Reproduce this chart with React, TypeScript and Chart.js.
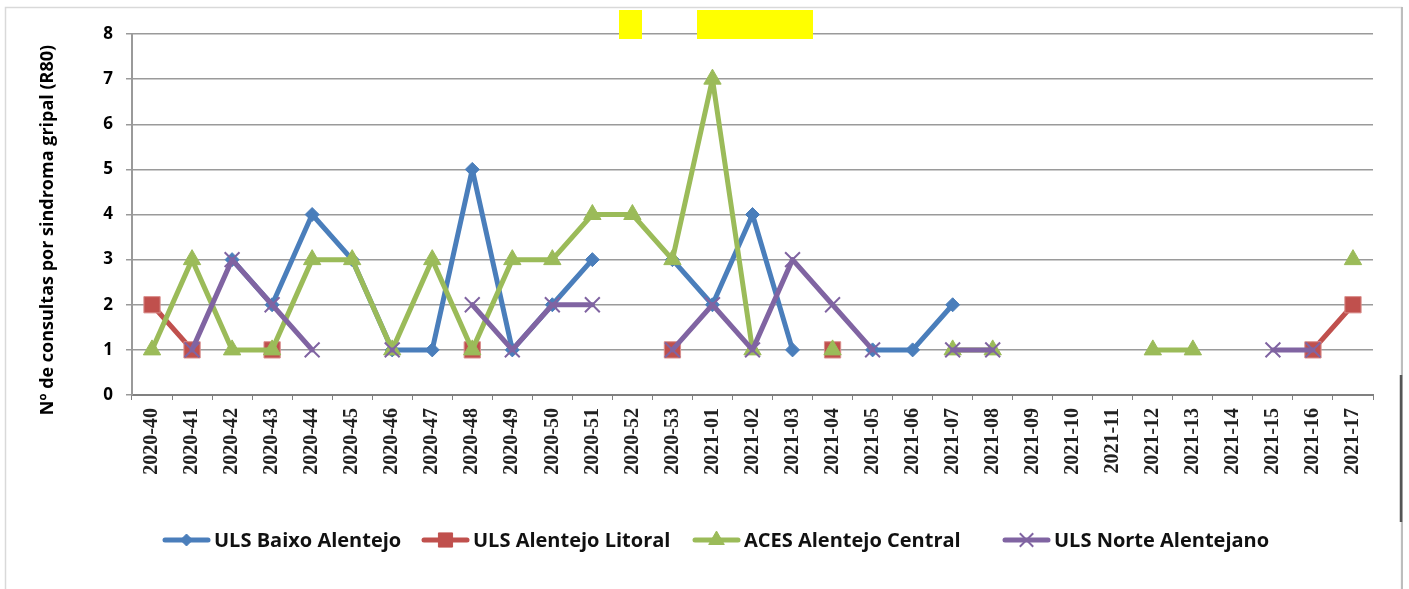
import React, { useEffect, useRef } from 'react';
import { Chart, registerables } from 'chart.js';

Chart.register(...registerables);

const categories = [
  '2020-40', '2020-41', '2020-42', '2020-43', '2020-44', '2020-45', '2020-46', '2020-47',
  '2020-48', '2020-49', '2020-50', '2020-51', '2020-52', '2020-53', '2021-01', '2021-02',
  '2021-03', '2021-04', '2021-05', '2021-06', '2021-07', '2021-08', '2021-09', '2021-10',
  '2021-11', '2021-12', '2021-13', '2021-14', '2021-15', '2021-16', '2021-17',
];

const baixoAlentejo = [
  null, null, 3, 2, 4, 3, 1, 1, 5, 1, 2, 3, null, 3, 2, 4,
  1, null, 1, 1, 2, null, null, null, null, null, null, null, null, null, null,
];
const alentejoLitoral = [
  2, 1, null, 1, null, null, null, null, 1, null, null, null, null, 1, null, null,
  null, 1, null, null, null, null, null, null, null, null, null, null, null, 1, 2,
];
const alentejoCentral = [
  1, 3, 1, 1, 3, 3, 1, 3, 1, 3, 3, 4, 4, 3, 7, 1,
  null, 1, null, null, 1, 1, null, null, null, 1, 1, null, null, null, 3,
];
const norteAlentejano = [
  null, 1, 3, 2, 1, null, 1, null, 2, 1, 2, 2, null, 1, 2, 1,
  3, 2, 1, null, 1, 1, null, null, null, null, null, null, 1, 1, null,
];

const seriesNames = ['ULS Baixo Alentejo', 'ULS Alentejo Litoral', 'ACES Alentejo Central', 'ULS Norte Alentejano'];
const yMin = 0;
const yMax = 8;
const yStep = 1;
const yAxisTitle = 'Nº de consultas por sindroma gripal (R80)';

const BLUE = '#4A7EBB';
const RED = '#C0504D';
const GREEN = '#9BBB59';
const PURPLE = '#8064A2';

type MarkerStyle = 'rectRot' | 'rect' | 'triangle' | 'crossRot';

function drawMarker(
  ctx: CanvasRenderingContext2D,
  style: MarkerStyle,
  x: number,
  y: number,
  r: number,
  fill: string,
  stroke: string,
  bw: number,
) {
  ctx.save();
  ctx.fillStyle = fill;
  ctx.strokeStyle = stroke;
  ctx.lineWidth = bw;
  ctx.beginPath();
  if (style === 'rectRot') {
    ctx.moveTo(x, y - r);
    ctx.lineTo(x + r, y);
    ctx.lineTo(x, y + r);
    ctx.lineTo(x - r, y);
    ctx.closePath();
    ctx.fill();
    ctx.stroke();
  } else if (style === 'rect') {
    const s = r * Math.SQRT1_2;
    ctx.rect(x - s, y - s, 2 * s, 2 * s);
    ctx.fill();
    ctx.stroke();
  } else if (style === 'triangle') {
    let a = 0;
    ctx.moveTo(x + Math.sin(a) * r, y - Math.cos(a) * r);
    a += (2 * Math.PI) / 3;
    ctx.lineTo(x + Math.sin(a) * r, y - Math.cos(a) * r);
    a += (2 * Math.PI) / 3;
    ctx.lineTo(x + Math.sin(a) * r, y - Math.cos(a) * r);
    ctx.closePath();
    ctx.fill();
    ctx.stroke();
  } else {
    const d = r * Math.SQRT1_2;
    ctx.moveTo(x - d, y - d);
    ctx.lineTo(x + d, y + d);
    ctx.moveTo(x + d, y - d);
    ctx.lineTo(x - d, y + d);
    ctx.stroke();
  }
  ctx.restore();
}

const legendMarkers: { style: MarkerStyle; color: string; border: string; r: number; bw: number }[] = [
  { style: 'rectRot', color: BLUE, border: BLUE, r: 6, bw: 1 },
  { style: 'rect', color: RED, border: RED, r: 10, bw: 1 },
  { style: 'triangle', color: GREEN, border: GREEN, r: 9, bw: 1 },
  { style: 'crossRot', color: PURPLE, border: PURPLE, r: 9.5, bw: 2 },
];
const legendLineStarts = [163, 422, 693, 1003];

const decorPlugin = {
  id: 'decor',
  beforeDraw(chart: any) {
    const ctx = chart.ctx as CanvasRenderingContext2D;
    ctx.save();
    ctx.fillStyle = '#ffffff';
    ctx.fillRect(0, 0, chart.width, chart.height);
    ctx.strokeStyle = '#d9d9d9';
    ctx.lineWidth = 1.5;
    ctx.strokeRect(5.5, 7.5, 1396, 600);
    ctx.strokeStyle = '#bdbdbd';
    ctx.lineWidth = 2;
    ctx.beginPath();
    ctx.moveTo(1402, 7);
    ctx.lineTo(1402, 589);
    ctx.stroke();
    ctx.strokeStyle = '#555555';
    ctx.lineWidth = 2.5;
    ctx.beginPath();
    ctx.moveTo(1401, 375);
    ctx.lineTo(1401, 522);
    ctx.stroke();
    ctx.restore();
  },
  afterDraw(chart: any) {
    const ctx = chart.ctx as CanvasRenderingContext2D;
    // y axis title
    ctx.save();
    ctx.translate(48, 230);
    ctx.rotate(-Math.PI / 2);
    ctx.font = 'bold 18px "Open Sans"';
    ctx.fillStyle = '#000000';
    ctx.textAlign = 'center';
    ctx.textBaseline = 'middle';
    ctx.fillText(yAxisTitle, 0, 0);
    ctx.restore();

    // legend
    const ly = 540;
    chart.data.datasets.forEach((ds: any, i: number) => {
      const m = legendMarkers[i];
      const x0 = legendLineStarts[i];
      const x1 = x0 + 47;
      ctx.save();
      ctx.strokeStyle = m.color;
      ctx.lineWidth = 5;
      ctx.lineCap = 'round';
      ctx.beginPath();
      ctx.moveTo(x0 + 2, ly);
      ctx.lineTo(x1 - 2, ly);
      ctx.stroke();
      ctx.restore();
      drawMarker(ctx, m.style, (x0 + x1) / 2, ly, m.r, m.color, m.border, m.bw);
      ctx.save();
      ctx.font = 'bold 20px "Open Sans"';
      ctx.fillStyle = '#111111';
      ctx.textAlign = 'left';
      ctx.textBaseline = 'middle';
      ctx.fillText(ds.label, x1 + 4, ly + 1);
      ctx.restore();
    });
  },
};

export default function App() {
  const canvasRef = useRef<HTMLCanvasElement | null>(null);

  useEffect(() => {
    const canvas = canvasRef.current;
    if (!canvas) return;
    const common = {
      borderWidth: 5,
      tension: 0,
      spanGaps: false,
      borderJoinStyle: 'round' as const,
      borderCapStyle: 'round' as const,
      clip: false as any,
    };
    const chart = new Chart(canvas, {
      type: 'line',
      data: {
        labels: categories,
        datasets: [
          {
            ...common,
            label: seriesNames[0],
            data: baixoAlentejo,
            borderColor: BLUE,
            backgroundColor: BLUE,
            pointStyle: 'rectRot',
            pointRadius: 7,
            pointHoverRadius: 7,
            pointBorderWidth: 1,
            pointBorderColor: BLUE,
            order: 4,
          },
          {
            ...common,
            label: seriesNames[1],
            data: alentejoLitoral,
            borderColor: RED,
            backgroundColor: RED,
            pointStyle: 'rect',
            pointRadius: 11.5,
            pointHoverRadius: 11.5,
            pointBorderWidth: 1,
            pointBorderColor: '#d98e8c',
            order: 3,
          },
          {
            ...common,
            label: seriesNames[2],
            data: alentejoCentral,
            borderColor: GREEN,
            backgroundColor: GREEN,
            pointStyle: 'triangle',
            pointRadius: 10,
            pointHoverRadius: 10,
            pointBorderWidth: 1,
            pointBorderColor: GREEN,
            order: 2,
          },
          {
            ...common,
            label: seriesNames[3],
            data: norteAlentejano,
            borderColor: PURPLE,
            backgroundColor: PURPLE,
            pointStyle: 'crossRot',
            pointRadius: 10.5,
            pointHoverRadius: 10.5,
            pointBorderWidth: 2,
            pointBorderColor: PURPLE,
            order: 1,
          },
        ],
      },
      options: {
        responsive: false,
        animation: false,
        events: [],
        layout: { padding: { top: 34, right: 36, bottom: 0, left: 0 } },
        plugins: {
          legend: { display: false },
          title: { display: false },
          tooltip: { enabled: false },
        },
        scales: {
          x: {
            type: 'category',
            offset: true,
            grid: {
              display: true,
              drawOnChartArea: false,
              drawTicks: true,
              tickLength: 5,
              offset: true,
              color: '#808080',
              lineWidth: 1,
            },
            border: { display: true, color: '#808080', width: 2 },
            ticks: {
              autoSkip: false,
              maxRotation: 90,
              minRotation: 90,
              padding: 8,
              color: '#222222',
              font: { family: '"Liberation Serif"', weight: 'bold', size: 20 },
            },
            afterFit: (scale: any) => {
              scale.height = 194;
            },
          },
          y: {
            min: yMin,
            max: yMax,
            ticks: {
              stepSize: yStep,
              padding: 13,
              color: '#000000',
              font: { family: '"Open Sans"', weight: 'bold', size: 17 },
            },
            grid: { color: '#9a9a9a', lineWidth: 1.5, tickLength: 6 },
            border: { display: true, color: '#9a9a9a', width: 2 },
            afterFit: (scale: any) => {
              scale.width = 132;
            },
          },
        },
      },
      plugins: [decorPlugin],
    });
    return () => chart.destroy();
  }, []);

  return (
    <div style={{ position: 'fixed', left: 0, top: 0, width: 1409, height: 589, background: '#fff' }}>
      <canvas ref={canvasRef} width={1409} height={589} style={{ width: 1409, height: 589, display: 'block' }} />
      <div style={{ position: 'absolute', left: 619, top: 10, width: 23, height: 29, background: '#ffff00' }} />
      <div style={{ position: 'absolute', left: 697, top: 10, width: 116, height: 29, background: '#ffff00' }} />
    </div>
  );
}
